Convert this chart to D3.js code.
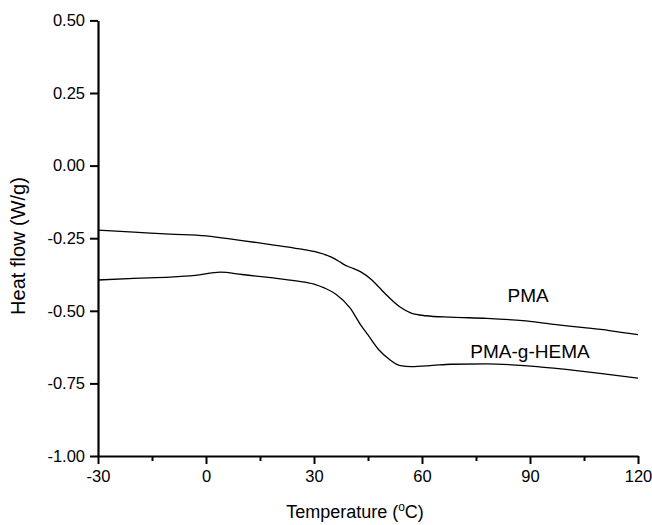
<!DOCTYPE html>
<html>
<head>
<meta charset="utf-8">
<script src="https://cdn.jsdelivr.net/npm/d3@7"></script>
<style>
  html, body { margin: 0; padding: 0; background: #fff; }
  svg { display: block; font-family: "Liberation Sans", Arial, sans-serif; }
</style>
</head>
<body>
<svg id="chart" width="652" height="525"></svg>
<script>
// Data
const xTicks = [-30, 0, 30, 60, 90, 120];
const xMinorTicks = [-15, 15, 45, 75, 105];
const yTicks = [0.50, 0.25, 0.00, -0.25, -0.50, -0.75, -1.00];

const pmaT = [-30, -20, -10, 0, 5, 10, 18, 26, 31, 35, 37, 38.5, 40, 43, 46, 48, 50, 54, 57, 61, 68, 78, 88, 96, 105, 112, 120];
const pmaV = [-0.222, -0.229, -0.236, -0.242, -0.250, -0.258, -0.272, -0.287, -0.299, -0.316, -0.330, -0.342, -0.350, -0.366, -0.393, -0.418, -0.444, -0.488, -0.508, -0.517, -0.522, -0.526, -0.534, -0.546, -0.558, -0.568, -0.582];

const hemaT = [-30, -20, -10, -3, 4, 10, 18, 25, 30, 33, 36, 40, 43, 45, 48, 51, 54, 57, 63, 68, 78, 85, 92, 100, 110, 120];
const hemaV = [-0.394, -0.388, -0.384, -0.378, -0.367, -0.375, -0.386, -0.397, -0.408, -0.422, -0.442, -0.490, -0.549, -0.583, -0.634, -0.668, -0.689, -0.692, -0.688, -0.684, -0.683, -0.686, -0.692, -0.702, -0.716, -0.732];

const labels = [
  { text: "PMA", t: 89.5, v: -0.47 },
  { text: "PMA-g-HEMA", t: 90, v: -0.662 }
];

const svg = d3.select("#chart");
const x = d3.scaleLinear().domain([-30, 120]).range([98, 638]);
const y = d3.scaleLinear().domain([-1, 0.5]).range([456, 20.4]);

const fmtX = d => String(d);
const fmtY = d => d.toFixed(2);

// Axes
const xAxis = d3.axisBottom(x).tickValues(xTicks).tickSize(8).tickSizeOuter(0).tickPadding(4).tickFormat(fmtX);
const gx = svg.append("g").attr("transform", "translate(0,456)").call(xAxis);
const xMinor = d3.axisBottom(x).tickValues(xMinorTicks).tickSize(5).tickSizeOuter(0).tickFormat("");
svg.append("g").attr("transform", "translate(0,456)").call(xMinor).select(".domain").remove();

const yAxis = d3.axisLeft(y).tickValues(yTicks).tickSize(8).tickSizeOuter(0).tickPadding(5).tickFormat(fmtY);
const gy = svg.append("g").attr("transform", "translate(98,0)").call(yAxis);

svg.selectAll(".domain").attr("stroke", "#000").attr("stroke-width", 2.2);
svg.selectAll(".tick line").attr("stroke", "#000").attr("stroke-width", 2);
svg.selectAll(".tick text").attr("fill", "#000").attr("font-size", 16.5).attr("font-family", "'Liberation Sans', Arial, sans-serif");
gx.selectAll(".tick text").attr("dy", "0.85em");

// Curves
const line = d3.line().x(d => x(d[0])).y(d => y(d[1])).curve(d3.curveMonotoneX);
svg.append("path").datum(pmaT.map((t, i) => [t, pmaV[i]]))
  .attr("d", line).attr("fill", "none").attr("stroke", "#000").attr("stroke-width", 1.3);
svg.append("path").datum(hemaT.map((t, i) => [t, hemaV[i]]))
  .attr("d", line).attr("fill", "none").attr("stroke", "#000").attr("stroke-width", 1.3);

// Curve labels
svg.selectAll(".clabel").data(labels).enter().append("text")
  .attr("x", d => x(d.t)).attr("y", d => y(d.v))
  .attr("text-anchor", "middle").attr("font-size", 19).attr("fill", "#000")
  .text(d => d.text);

// Axis titles
const xt = svg.append("text").attr("x", 355).attr("y", 518).attr("text-anchor", "middle")
  .attr("font-size", 18).attr("fill", "#000");
xt.append("tspan").text("Temperature (");
xt.append("tspan").attr("font-size", 12).attr("dy", -7).text("o");
xt.append("tspan").attr("dy", 7).text("C)");

svg.append("text").attr("transform", "translate(25,246) rotate(-90)")
  .attr("text-anchor", "middle").attr("font-size", 20).attr("fill", "#000")
  .text("Heat flow (W/g)");
</script>
</body>
</html>
